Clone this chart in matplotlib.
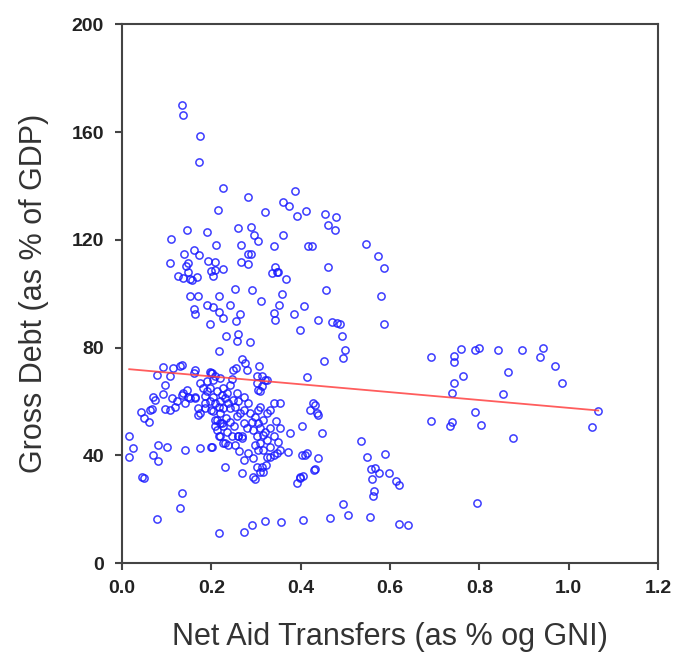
import matplotlib
matplotlib.use("Agg")
import matplotlib.pyplot as plt
import numpy

plt.rcParams["font.family"] = ["Liberation Sans", "DejaVu Sans"]

# points, (net aid % GNI, gross debt % GDP)
upper_pts = [
    (0.134, 169.9), (0.137, 166.3), (0.175, 158.5), (0.173, 149.0), (0.225, 139.3),
    (0.283, 136.0), (0.387, 138.0), (0.214, 131.0), (0.320, 130.4), (0.361, 133.9),
    (0.374, 132.5), (0.392, 128.7), (0.412, 130.6), (0.454, 129.4), (0.479, 128.4),
    (0.460, 125.4), (0.476, 123.8), (0.145, 123.8), (0.110, 120.2), (0.190, 122.9),
    (0.260, 124.4), (0.288, 124.9), (0.296, 121.7), (0.305, 119.7), (0.210, 118.0),
    (0.266, 118.2), (0.360, 121.6), (0.340, 117.6), (0.417, 117.8), (0.426, 117.8),
    (0.546, 118.6), (0.139, 114.8), (0.161, 116.4), (0.172, 114.4), (0.283, 114.9),
    (0.289, 114.9), (0.574, 113.9), (0.107, 111.4), (0.148, 111.4), (0.143, 110.2),
    (0.193, 112.0), (0.207, 111.6), (0.266, 111.6), (0.283, 111.0), (0.200, 108.3),
    (0.208, 108.9), (0.227, 109.3), (0.342, 109.8), (0.348, 108.1), (0.335, 107.7),
    (0.346, 107.9), (0.460, 109.8), (0.587, 109.6), (0.126, 106.7), (0.137, 105.8),
    (0.148, 107.9), (0.152, 105.5), (0.156, 104.9), (0.167, 106.2), (0.203, 106.4),
    (0.366, 105.5), (0.253, 101.7), (0.290, 101.5), (0.456, 101.5),
]

middle_pts = [
    (0.151, 99.3), (0.169, 99.0), (0.216, 99.3), (0.358, 100.0), (0.310, 97.1),
    (0.579, 99.0), (0.160, 94.3), (0.163, 92.6), (0.190, 95.9), (0.203, 95.1),
    (0.218, 93.1), (0.227, 91.0), (0.242, 95.9), (0.264, 92.6), (0.255, 89.7),
    (0.197, 88.8), (0.352, 95.9), (0.339, 93.0), (0.342, 90.3), (0.384, 92.5),
    (0.407, 95.5), (0.398, 86.4), (0.438, 90.1), (0.469, 89.5), (0.482, 89.1),
    (0.488, 88.8), (0.587, 88.8), (0.492, 84.4), (0.500, 79.2), (0.494, 76.1),
    (0.451, 75.1), (0.232, 84.4), (0.260, 85.1), (0.257, 82.5), (0.287, 81.9),
    (0.216, 78.6), (0.268, 75.7), (0.275, 74.2), (0.307, 73.2), (0.249, 71.7),
    (0.255, 72.4), (0.279, 71.5), (0.092, 72.7), (0.115, 72.4), (0.130, 73.0),
    (0.134, 73.6), (0.163, 71.7), (0.160, 70.5), (0.197, 71.1), (0.078, 69.9),
    (0.107, 69.3), (0.413, 69.0), (0.201, 70.5), (0.199, 70.5), (0.208, 69.3),
    (0.246, 68.3), (0.302, 69.3), (0.313, 69.3), (0.320, 68.0), (0.302, 66.8),
    (0.313, 65.6), (0.309, 63.7), (0.324, 68.0), (0.305, 64.3),
]

cluster_pts = [
    (0.175, 66.8), (0.190, 67.4), (0.204, 68.0), (0.219, 68.7), (0.197, 64.9),
    (0.212, 63.7), (0.227, 64.9), (0.242, 66.2), (0.137, 63.1), (0.148, 61.8),
    (0.141, 59.4), (0.163, 61.2), (0.171, 57.5), (0.186, 59.4), (0.175, 55.7),
    (0.204, 61.8), (0.208, 59.4), (0.219, 60.0), (0.231, 61.2), (0.238, 59.4),
    (0.249, 60.6), (0.260, 60.0), (0.253, 58.1), (0.242, 57.5), (0.227, 57.5),
    (0.219, 55.7), (0.204, 56.3), (0.272, 61.8), (0.283, 59.4), (0.272, 56.9),
    (0.264, 55.7), (0.257, 54.5), (0.309, 58.1), (0.305, 56.9), (0.339, 59.4),
    (0.354, 59.4), (0.331, 56.9), (0.324, 55.7), (0.428, 59.4), (0.421, 56.9),
    (0.436, 55.7), (0.447, 48.2), (0.402, 50.7), (0.376, 48.2), (0.208, 53.2),
    (0.219, 51.9), (0.212, 49.4), (0.227, 50.7), (0.242, 52.5), (0.235, 48.8),
    (0.246, 47.0), (0.219, 47.0), (0.231, 44.5), (0.253, 43.9), (0.260, 47.0),
    (0.268, 46.4), (0.272, 52.0), (0.279, 50.1), (0.290, 52.5), (0.298, 54.4),
    (0.305, 52.0), (0.316, 53.2), (0.294, 49.4), (0.302, 47.0), (0.309, 50.1),
    (0.320, 48.8), (0.331, 50.1), (0.339, 47.0), (0.354, 50.1), (0.324, 45.7),
    (0.309, 44.5), (0.316, 42.0), (0.331, 43.2), (0.349, 45.1), (0.354, 42.0),
    (0.372, 41.4), (0.339, 40.1), (0.324, 39.5), (0.305, 42.0), (0.141, 42.0),
    (0.175, 42.6), (0.201, 43.2), (0.231, 35.8), (0.268, 33.3), (0.272, 38.3),
    (0.294, 38.9), (0.302, 35.8), (0.309, 33.9), (0.294, 32.1), (0.331, 39.5),
    (0.346, 40.8), (0.410, 40.1), (0.439, 38.9), (0.432, 34.8), (0.398, 32.1),
    (0.391, 29.6), (0.406, 32.5), (0.432, 58.7), (0.439, 55.0),
    (0.186, 62.0), (0.196, 60.2), (0.224, 62.4), (0.235, 63.3), (0.258, 63.0),
    (0.216, 58.0), (0.233, 54.0), (0.250, 51.0), (0.286, 55.6), (0.297, 44.0),
    (0.316, 47.6), (0.345, 52.6), (0.283, 41.0), (0.262, 41.5), (0.323, 36.5),
]

left_pts = [
    (0.095, 66.2), (0.092, 62.7), (0.069, 61.8), (0.074, 60.6), (0.111, 61.2),
    (0.122, 60.0), (0.066, 57.2), (0.063, 56.9), (0.043, 56.0), (0.048, 53.8),
    (0.061, 52.5), (0.095, 57.2), (0.107, 56.9), (0.119, 57.9), (0.134, 62.5),
    (0.145, 64.3), (0.152, 61.2), (0.163, 61.8), (0.182, 64.9), (0.190, 63.7),
    (0.171, 55.0), (0.186, 57.5), (0.200, 56.9), (0.212, 53.2), (0.223, 51.9),
    (0.208, 50.7), (0.016, 47.2), (0.025, 42.6), (0.016, 39.3), (0.081, 43.9),
    (0.100, 43.2), (0.070, 40.1), (0.081, 37.9), (0.199, 43.2), (0.216, 47.0),
    (0.227, 44.5), (0.238, 43.9), (0.260, 47.2), (0.268, 47.2),
]

low_pts = [
    (0.044, 32.1), (0.048, 31.5), (0.134, 25.9), (0.130, 20.3), (0.078, 16.4),
    (0.216, 11.3), (0.272, 11.6), (0.290, 14.1), (0.319, 15.6), (0.355, 15.4),
    (0.404, 16.0), (0.466, 16.6), (0.495, 21.8), (0.505, 17.8), (0.555, 17.0),
    (0.621, 14.4), (0.641, 14.1), (0.794, 22.4), (0.298, 31.1), (0.313, 35.8),
    (0.316, 33.9), (0.402, 40.1), (0.413, 40.8), (0.430, 34.6), (0.398, 31.5),
    (0.535, 45.4), (0.549, 39.5), (0.589, 40.5), (0.557, 34.9), (0.566, 35.4),
    (0.576, 33.6), (0.598, 33.3), (0.559, 31.1), (0.613, 30.5), (0.620, 29.0),
    (0.563, 26.9), (0.561, 24.9),
]

right_pts = [
    (0.692, 76.5), (0.744, 77.0), (0.759, 79.4), (0.742, 74.8), (0.790, 79.2),
    (0.800, 79.8), (0.842, 79.2), (0.895, 79.2), (0.943, 79.8), (0.936, 76.5),
    (0.969, 73.2), (0.984, 66.8), (0.764, 69.6), (0.744, 66.8), (0.863, 71.1),
    (0.738, 63.1), (0.852, 62.7), (1.066, 56.5), (1.051, 50.4), (0.692, 52.9),
    (0.739, 52.5), (0.733, 50.9), (0.790, 55.9), (0.804, 51.3), (0.876, 46.6),
]

# fitted line
fit_intercept = 72.2
fit_slope = -14.6

pts = numpy.array(upper_pts + middle_pts + cluster_pts + left_pts + low_pts + right_pts)
aid = pts[:, 0]
debt = pts[:, 1]

fig = plt.figure(figsize=(6.82, 6.57), dpi=100)
ax = fig.add_axes([0.179, 0.143, 0.786, 0.820])

ax.plot(aid, debt, "o", ms=5.2, mew=1.1, mfc="none", mec="#1a1aff", alpha=0.85)

xl = numpy.array([aid.min(), aid.max()])
ax.plot(xl, fit_intercept + fit_slope * xl, "-", color="#ff4040", lw=1.3, alpha=0.85)

ax.set_xlim(0, 1.2)
ax.set_ylim(0, 200)
ax.set_xticks(numpy.arange(0, 1.21, 0.2))
ax.set_yticks(numpy.arange(0, 201, 40))
ax.set_xticklabels(["0.0", "0.2", "0.4", "0.6", "0.8", "1.0", "1.2"])

for s in ax.spines.values():
    s.set_color("#444444")
    s.set_linewidth(1.5)
ax.tick_params(direction="out", length=5, width=1.5, color="#444444",
               labelsize=14, labelcolor="#222222", top=False, right=False)
ax.tick_params(axis="y", pad=8)
ax.tick_params(axis="x", pad=7)
for lab in ax.get_xticklabels() + ax.get_yticklabels():
    lab.set_fontweight("bold")

ax.set_xlabel("Net Aid Transfers (as % og GNI)", fontsize=22, color="#333333", labelpad=18)
ax.set_ylabel("Gross Debt (as % of GDP)", fontsize=22, color="#333333", labelpad=16)

plt.savefig("out.png", dpi=100)
